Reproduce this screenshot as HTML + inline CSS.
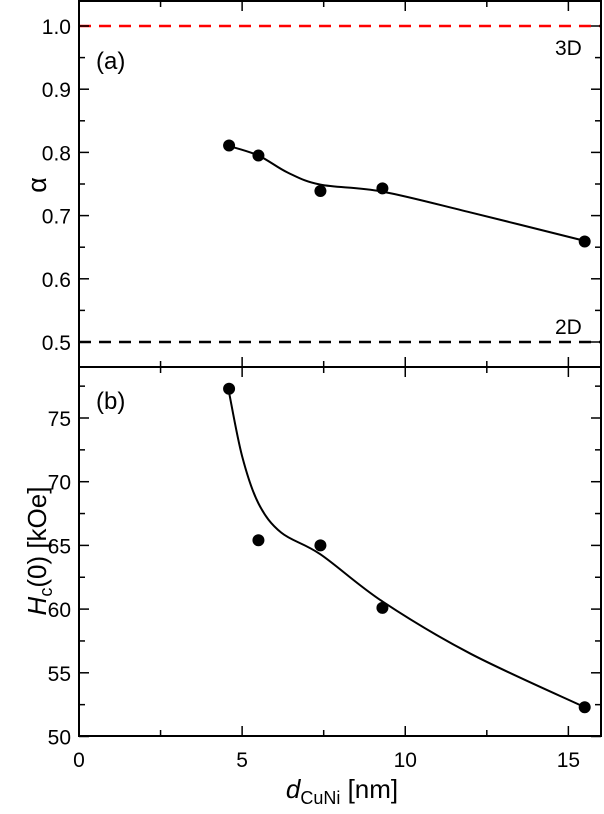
<!DOCTYPE html>
<html><head><meta charset="utf-8"><style>
body{margin:0;background:#fff}
text{font-family:"Liberation Sans",Arial,sans-serif;fill:#000}
</style></head><body>
<svg id="c" width="604" height="809" xmlns="http://www.w3.org/2000/svg"></svg>
<script>
const xs = [4.6, 5.5, 7.4, 9.3, 15.5];
const alphaVals = [0.811, 0.795, 0.739, 0.743, 0.659];
const hcVals = [77.3, 65.4, 65.0, 60.1, 52.3];
const alphaFitX = [4.6, 5.5, 6.4, 7.4, 9.3, 12, 15.5];
const alphaFitY = [0.81, 0.795, 0.768, 0.749, 0.738, 0.705, 0.66];
const hcFitX = [4.6, 5.0, 5.5, 6.2, 7.4, 9.3, 12, 15.5];
const hcFitY = [77, 72, 68.3, 66, 64.3, 60.6, 56.5, 52.3];
const xTicks = [0, 5, 10, 15];
const aTicks = [0.5, 0.6, 0.7, 0.8, 0.9, 1.0];
const hTicks = [50, 55, 60, 65, 70, 75];

const svg = document.getElementById('c');
const NS = 'http://www.w3.org/2000/svg';
const L = 79, R = 601, T = 1, M = 367, B = 736;
const X = v => L + v * (R - L) / 16;
const YA = v => 26 + (1.0 - v) * 632;
const YH = v => 418 + (75 - v) * 12.74;
function el(tag, attrs, parent) {
  const e = document.createElementNS(NS, tag);
  for (const k in attrs) e.setAttribute(k, attrs[k]);
  (parent || svg).appendChild(e);
  return e;
}
function path(fx, fy, Y) {
  const p = fx.map((x, i) => [X(x), Y(fy[i])]);
  let d = 'M' + p[0][0] + ',' + p[0][1];
  for (let i = 0; i < p.length - 1; i++) {
    const p0 = p[i - 1] || p[i], p1 = p[i], p2 = p[i + 1], p3 = p[i + 2] || p2;
    d += ' C' + (p1[0] + (p2[0] - p0[0]) / 6) + ',' + (p1[1] + (p2[1] - p0[1]) / 6) + ' ' +
      (p2[0] - (p3[0] - p1[0]) / 6) + ',' + (p2[1] - (p3[1] - p1[1]) / 6) + ' ' + p2[0] + ',' + p2[1];
  }
  return d;
}
let e = el('line', {x1: L, x2: R, y1: YA(1.0), y2: YA(1.0), stroke: '#f00', 'stroke-width': 2.5, 'stroke-dasharray': '12,8'});


e = el('line', {x1: L, x2: R, y1: YA(0.5), y2: YA(0.5), stroke: '#000', 'stroke-width': 2.5, 'stroke-dasharray': '12,8'});


e = el('rect', {x: L, y: T, width: R - L, height: B - T, fill: 'none', stroke: '#000', 'stroke-width': 2});


e = el('line', {x1: L, x2: R, y1: M, y2: M, stroke: '#000', 'stroke-width': 2});


for (let v = 0; v <= 16; v += 2.5) {
  const big = v % 5 === 0;
  const len = big ? 10 : 6;
  [[B, -1], [M, -1], [T, 1], [M, 1]].forEach(([y, s]) => {
    el('line', {x1: X(v), x2: X(v), y1: y, y2: y + s * len, stroke: '#000', 'stroke-width': 1.5});
  });
}
xTicks.forEach(v => {
  const t = el('text', {x: X(v), y: B + 31, 'text-anchor': 'middle', 'font-size': 21});
  t.textContent = v;
  
  
});
for (let v = 0.5; v <= 1.0001; v += 0.05) {
  const big = Math.abs(v * 10 - Math.round(v * 10)) < 0.01;
  const len = big ? 10 : 6;
  el('line', {x1: L, x2: L + len, y1: YA(v), y2: YA(v), stroke: '#000', 'stroke-width': 1.5});
  el('line', {x1: R, x2: R - len, y1: YA(v), y2: YA(v), stroke: '#000', 'stroke-width': 1.5});
}
aTicks.forEach(v => {
  const t = el('text', {x: L - 8, y: YA(v) + 8, 'text-anchor': 'end', 'font-size': 21});
  t.textContent = v.toFixed(1);
  
  
});
for (let v = 50; v <= 77.5; v += 2.5) {
  const big = v % 5 === 0;
  const len = big ? 10 : 6;
  el('line', {x1: L, x2: L + len, y1: YH(v), y2: YH(v), stroke: '#000', 'stroke-width': 1.5});
  el('line', {x1: R, x2: R - len, y1: YH(v), y2: YH(v), stroke: '#000', 'stroke-width': 1.5});
}
hTicks.forEach(v => {
  const t = el('text', {x: L - 8, y: YH(v) + 8, 'text-anchor': 'end', 'font-size': 21});
  t.textContent = v;
  
  
});
e = el('path', {d: path(alphaFitX, alphaFitY, YA), fill: 'none', stroke: '#000', 'stroke-width': 2});


e = el('path', {d: path(hcFitX, hcFitY, YH), fill: 'none', stroke: '#000', 'stroke-width': 2});


xs.forEach((x, i) => {
  let c = el('circle', {cx: X(x), cy: YA(alphaVals[i]), r: 6, fill: '#000'});
  
  
  c = el('circle', {cx: X(x), cy: YH(hcVals[i]), r: 6, fill: '#000'});
  
  
});
</script>
<svg width="604" height="809" style="position:absolute;left:0;top:0">
<text x="96" y="69" font-size="24">(a)</text>
<text x="96" y="409" font-size="24">(b)</text>
<text x="555" y="55" font-size="21">3D</text>
<text x="555" y="334" font-size="21">2D</text>
<text transform="translate(46,185) rotate(-90)" text-anchor="middle" font-size="27">α</text>
<text transform="translate(46,551) rotate(-90)" text-anchor="middle" font-size="26"><tspan font-style="italic">H</tspan><tspan font-size="18" dy="6">c</tspan><tspan dy="-6">(0) [kOe]</tspan></text>
<text x="342" y="798" text-anchor="middle" font-size="26"><tspan font-style="italic">d</tspan><tspan font-size="18" dy="6">CuNi</tspan><tspan dy="-6"> [nm]</tspan></text>
</svg>
</body></html>
